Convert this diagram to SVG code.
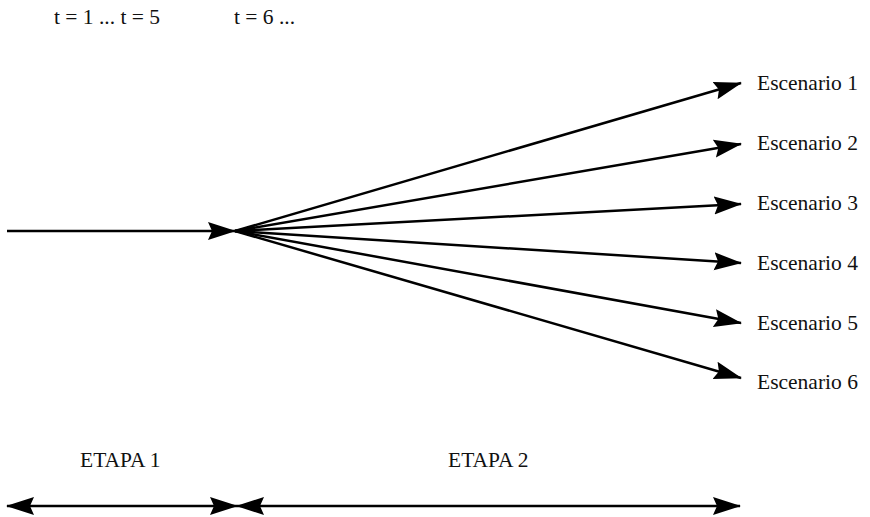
<svg xmlns="http://www.w3.org/2000/svg" width="870" height="517" viewBox="0 0 870 517">
<style>
.t{font-family:"Liberation Serif","Times New Roman",serif;font-size:21.5px;fill:#111}
.c{stroke:#000;stroke-width:2.5;fill:none}
</style>
<defs>
<marker id="ah" markerUnits="userSpaceOnUse" markerWidth="29" markerHeight="20" refX="27" refY="9" orient="auto-start-reverse" viewBox="0 0 29 18">
<path d="M0,0 L28,9 L0,18 L4,9 z" fill="#000"/>
</marker>
</defs>
<rect width="870" height="517" fill="#fff"/>
<g id="labels-top">
<text class="t" x="54" y="24">t = 1 ... t = 5</text>
<text class="t" x="234" y="24">t = 6 ...</text>
</g>
<g id="connectors">
<line class="c" x1="7" y1="231" x2="235" y2="231" marker-end="url(#ah)"/>
<line class="c" x1="235" y1="231" x2="741" y2="83" marker-end="url(#ah)"/>
<line class="c" x1="235" y1="231" x2="741" y2="144" marker-end="url(#ah)"/>
<line class="c" x1="235" y1="231" x2="741" y2="204" marker-end="url(#ah)"/>
<line class="c" x1="235" y1="231" x2="741" y2="263" marker-end="url(#ah)"/>
<line class="c" x1="235" y1="231" x2="741" y2="323" marker-end="url(#ah)"/>
<line class="c" x1="235" y1="231" x2="741" y2="378" marker-end="url(#ah)"/>
<line class="c" x1="7" y1="506" x2="237" y2="506" marker-start="url(#ah)" marker-end="url(#ah)"/>
<line class="c" x1="237" y1="506" x2="740" y2="506" marker-start="url(#ah)" marker-end="url(#ah)"/>
</g>
<g id="s1"><text class="t" x="757" y="90">Escenario 1</text></g>
<g id="s2"><text class="t" x="757" y="150">Escenario 2</text></g>
<g id="s3"><text class="t" x="757" y="210">Escenario 3</text></g>
<g id="s4"><text class="t" x="757" y="270">Escenario 4</text></g>
<g id="s5"><text class="t" x="757" y="330">Escenario 5</text></g>
<g id="s6"><text class="t" x="757" y="389">Escenario 6</text></g>
<g id="etapa1"><text class="t" x="80" y="467">ETAPA 1</text></g>
<g id="etapa2"><text class="t" x="448" y="467">ETAPA 2</text></g>
</svg>
